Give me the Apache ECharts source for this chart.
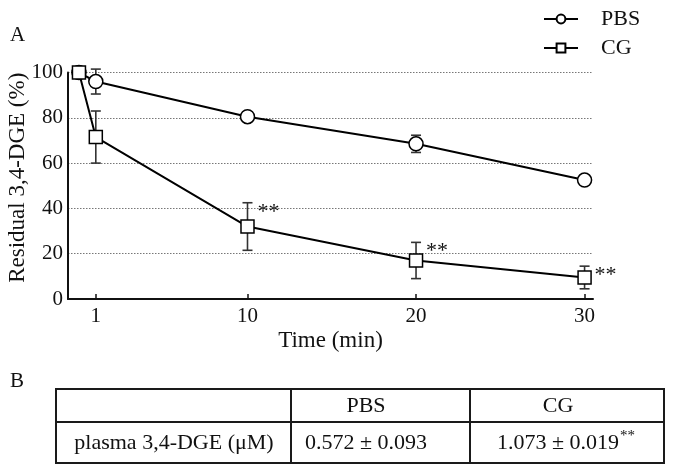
<!DOCTYPE html>
<html>
<head>
<meta charset="utf-8">
<script src="https://cdn.jsdelivr.net/npm/echarts@6/dist/echarts.min.js"></script>
<style>
  html, body { margin: 0; padding: 0; background: #fff; }
  #chart { width: 673px; height: 472px; }
</style>
</head>
<body>
<div id="chart"></div>
<script>
// time points (min)
var times = [0, 1, 10, 20, 30];
var xTicks = [1, 10, 20, 30];

// residual 3,4-DGE (%), mean and SD
var pbsMean = [100, 96, 80.5, 68.5, 52.5];
var pbsSd = [0, 5.5, 0, 3.8, 0];
var cgMean = [100, 71.5, 32, 17, 9.5];
var cgSd = [0, 11.5, 10.5, 8, 5];
var cgSig = ['', '', '**', '**', '**'];

// panel B table
var tableHead = ['', 'PBS', 'CG'];
var tableRow = ['plasma 3,4-DGE (\u03bcM)', '0.572 \u00b1 0.093', '1.073 \u00b1 0.019'];
var tableSig = ['', '', '**'];

var FONT = '"Liberation Serif", "DejaVu Serif", serif';
var INK = '#111';

function pairs(xs, ys) {
  return xs.map(function (x, i) { return [x, ys[i]]; });
}

function errData(means, sds) {
  return times.map(function (t, i) { return [t, means[i] - sds[i], means[i] + sds[i]]; });
}

function renderErr(params, api) {
  var lo = api.coord([api.value(0), api.value(1)]);
  var hi = api.coord([api.value(0), api.value(2)]);
  if (Math.abs(lo[1] - hi[1]) < 1) return null;
  var w = 5;
  var st = { stroke: '#333', lineWidth: 1.6 };
  return {
    type: 'group',
    children: [
      { type: 'line', shape: { x1: hi[0], y1: hi[1], x2: lo[0], y2: lo[1] }, style: st },
      { type: 'line', shape: { x1: hi[0] - w, y1: hi[1], x2: hi[0] + w, y2: hi[1] }, style: st },
      { type: 'line', shape: { x1: lo[0] - w, y1: lo[1], x2: lo[0] + w, y2: lo[1] }, style: st }
    ]
  };
}

function renderSig(params, api) {
  var s = cgSig[params.dataIndex];
  if (!s) return null;
  var top = api.coord([api.value(0), api.value(1) + api.value(2)]);
  return {
    type: 'text',
    x: top[0] + 10,
    y: top[1] + 9,
    style: { text: s, font: '22px ' + FONT, fill: INK, verticalAlign: 'middle', align: 'left' }
  };
}

// table built from graphic elements
var tLeft = 56, tRight = 664, tTop = 389, tMid = 422, tBot = 463;
var colX = [56, 291, 470, 664];
var colText = [174, 366, 558];
var tbl = [];
var bs = { stroke: '#1a1a1a', lineWidth: 2, fill: null };
tbl.push({ type: 'rect', shape: { x: tLeft, y: tTop, width: tRight - tLeft, height: tBot - tTop }, style: bs });
tbl.push({ type: 'line', shape: { x1: tLeft, y1: tMid, x2: tRight, y2: tMid }, style: bs });
tbl.push({ type: 'line', shape: { x1: colX[1], y1: tTop, x2: colX[1], y2: tBot }, style: bs });
tbl.push({ type: 'line', shape: { x1: colX[2], y1: tTop, x2: colX[2], y2: tBot }, style: bs });
tableHead.forEach(function (txt, i) {
  if (!txt) return;
  tbl.push({ type: 'text', x: colText[i], y: (tTop + tMid) / 2 + 1,
    style: { text: txt, font: '22px ' + FONT, fill: INK, align: 'center', verticalAlign: 'middle' } });
});
tableRow.forEach(function (txt, i) {
  var rich = tableSig[i] ? txt + '{s|' + tableSig[i] + '}' : txt;
  tbl.push({ type: 'text', x: colText[i] + (tableSig[i] ? 8 : 0), y: (tMid + tBot) / 2 + 1,
    style: { text: rich, font: '22px ' + FONT, fill: INK, align: 'center', verticalAlign: 'middle',
      rich: { s: { font: '15px ' + FONT, fill: INK, verticalAlign: 'top', padding: [0, 0, 14, 1] } } } });
});
tbl.push({ type: 'text', x: 10, y: 381,
  style: { text: 'B', font: '21px ' + FONT, fill: INK, verticalAlign: 'middle' } });
tbl.push({ type: 'text', x: 10, y: 35,
  style: { text: 'A', font: '21px ' + FONT, fill: INK, verticalAlign: 'middle' } });

var chart = echarts.init(document.getElementById('chart'), null, { renderer: 'canvas' });

var option = {
  backgroundColor: '#fff',
  animation: false,
  textStyle: { fontFamily: FONT, color: INK },
  grid: { left: 68, right: 80, top: 72.5, bottom: 173, containLabel: false, outerBoundsMode: 'none' },
  legend: {
    orient: 'vertical',
    left: 538,
    top: 3,
    itemWidth: 34,
    itemHeight: 11,
    itemGap: 7,
    data: ['PBS', 'CG'],
    textStyle: { fontFamily: FONT, fontSize: 22, color: INK, padding: [0, 0, 0, 18] }
  },
  xAxis: {
    type: 'value',
    min: -0.65,
    max: 30.5,
    name: 'Time (min)',
    nameLocation: 'middle',
    nameGap: 30,
    nameTextStyle: { fontFamily: FONT, fontSize: 23, color: INK },
    axisLine: { onZero: false, lineStyle: { color: INK, width: 2 } },
    axisTick: { inside: true, length: 5, lineStyle: { color: INK, width: 1.5 }, customValues: xTicks },
    axisLabel: { fontFamily: FONT, fontSize: 21, color: INK, margin: 7, customValues: xTicks },
    splitLine: { show: false }
  },
  yAxis: {
    type: 'value',
    min: 0,
    max: 100,
    interval: 20,
    name: 'Residual 3,4-DGE (%)',
    nameLocation: 'middle',
    nameGap: 39,
    nameMoveOverlap: false,
    nameTextStyle: { fontFamily: FONT, fontSize: 23, color: INK, padding: [0, 0, 0, 16] },
    axisLine: { show: true, onZero: false, lineStyle: { color: INK, width: 2 } },
    axisTick: { show: false },
    axisLabel: { fontFamily: FONT, fontSize: 21, color: INK, margin: 5 },
    splitLine: { show: true, lineStyle: { color: '#777', width: 1, type: [1.5, 1.5] } }
  },
  series: [
    {
      type: 'custom',
      renderItem: renderErr,
      data: errData(pbsMean, pbsSd),
      encode: { x: 0, y: [1, 2] },
      z: 1,
      silent: true
    },
    {
      type: 'custom',
      renderItem: renderErr,
      data: errData(cgMean, cgSd),
      encode: { x: 0, y: [1, 2] },
      z: 1,
      silent: true
    },
    {
      name: 'PBS',
      type: 'line',
      data: pairs(times, pbsMean),
      symbol: 'circle',
      symbolSize: 14,
      showAllSymbol: true,
      lineStyle: { color: '#000', width: 2 },
      itemStyle: { color: '#fff', borderColor: '#000', borderWidth: 1.5 },
      z: 3
    },
    {
      name: 'CG',
      type: 'line',
      data: pairs(times, cgMean),
      symbol: 'rect',
      symbolSize: 13,
      showAllSymbol: true,
      lineStyle: { color: '#000', width: 2 },
      itemStyle: { color: '#fff', borderColor: '#000', borderWidth: 1.5 },
      z: 4
    },
    {
      type: 'custom',
      renderItem: renderSig,
      data: times.map(function (t, i) { return [t, cgMean[i], cgSd[i]]; }),
      encode: { x: 0, y: 1 },
      z: 5,
      silent: true
    }
  ],
  graphic: tbl
};

chart.setOption(option);
</script>
</body>
</html>
